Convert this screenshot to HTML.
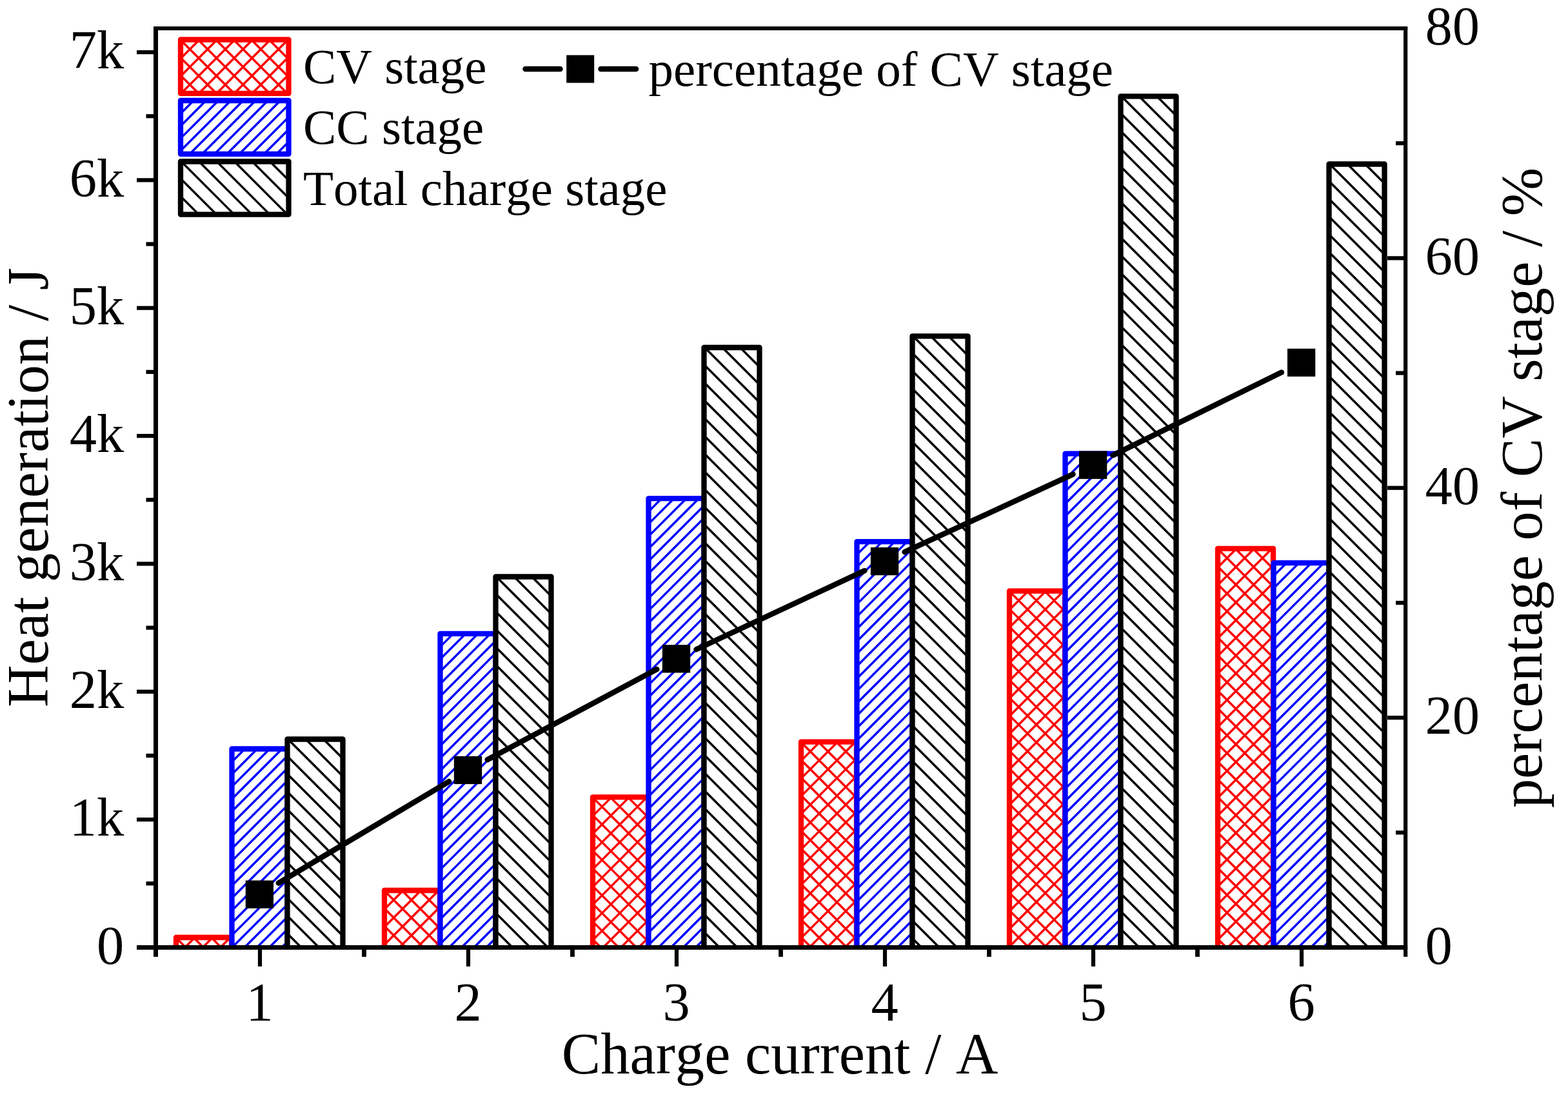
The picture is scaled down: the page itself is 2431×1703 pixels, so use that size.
<!DOCTYPE html>
<html lang="en">
<head>
<meta charset="utf-8">
<title>Heat generation vs charge current</title>
<style>
html,body{margin:0;padding:0;background:#fff;}
body{width:2431px;height:1703px;position:relative;overflow:hidden;}
svg text{font-family:"Liberation Serif", serif;font-kerning:none;}
</style>
</head>
<body>
<svg width="2431" height="1703" viewBox="0 0 2431 1703" role="img" aria-label="Heat generation and percentage of CV stage versus charge current" style="display:block;position:absolute;left:0;top:0">
<rect x="0" y="0" width="2431" height="1703" fill="#fff"/>
<clipPath id="plotclip"><rect x="0" y="0" width="2431" height="1469.50"/></clipPath>
<g id="bars" clip-path="url(#plotclip)">
<rect x="273.00" y="1454.00" width="86.00" height="15.50" fill="#fff" stroke="none"/>
<path d="M273.00 1454.50L288.00 1469.50M300.00 1454.00L315.50 1469.50M327.50 1454.00L343.00 1469.50M355.00 1454.00L359.00 1458.00M273.00 1455.70L274.70 1454.00M286.70 1469.50L302.20 1454.00M314.20 1469.50L329.70 1454.00M341.70 1469.50L357.20 1454.00" fill="none" stroke="#ff0000" stroke-width="3.45"/>
<rect x="273.00" y="1454.00" width="86.00" height="27.50" fill="none" stroke="#ff0000" stroke-width="8.30" stroke-linejoin="round"/>
<rect x="359.50" y="1161.50" width="86.00" height="308.00" fill="#fff" stroke="none"/>
<path d="M359.50 1162.50L360.50 1161.50M359.50 1181.71L379.71 1161.50M359.50 1200.92L398.92 1161.50M359.50 1220.13L418.13 1161.50M359.50 1239.34L437.34 1161.50M359.50 1258.55L445.50 1172.55M359.50 1277.76L445.50 1191.76M359.50 1296.97L445.50 1210.97M359.50 1316.18L445.50 1230.18M359.50 1335.39L445.50 1249.39M359.50 1354.60L445.50 1268.60M359.50 1373.81L445.50 1287.81M359.50 1393.02L445.50 1307.02M359.50 1412.23L445.50 1326.23M359.50 1431.44L445.50 1345.44M359.50 1450.65L445.50 1364.65M359.86 1469.50L445.50 1383.86M379.07 1469.50L445.50 1403.07M398.28 1469.50L445.50 1422.28M417.49 1469.50L445.50 1441.49M436.70 1469.50L445.50 1460.70" fill="none" stroke="#0000ff" stroke-width="3.45"/>
<rect x="359.50" y="1161.50" width="86.00" height="320.00" fill="none" stroke="#0000ff" stroke-width="8.30" stroke-linejoin="round"/>
<rect x="445.50" y="1146.50" width="86.00" height="323.00" fill="#fff" stroke="none"/>
<path d="M445.50 1448.00L467.00 1469.50M445.50 1420.50L494.50 1469.50M445.50 1393.00L522.00 1469.50M445.50 1365.50L531.50 1451.50M445.50 1338.00L531.50 1424.00M445.50 1310.50L531.50 1396.50M445.50 1283.00L531.50 1369.00M445.50 1255.50L531.50 1341.50M445.50 1228.00L531.50 1314.00M445.50 1200.50L531.50 1286.50M445.50 1173.00L531.50 1259.00M446.50 1146.50L531.50 1231.50M474.00 1146.50L531.50 1204.00M501.50 1146.50L531.50 1176.50M529.00 1146.50L531.50 1149.00" fill="none" stroke="#000000" stroke-width="3.45"/>
<rect x="445.50" y="1146.50" width="86.00" height="335.00" fill="none" stroke="#000000" stroke-width="8.30" stroke-linejoin="round"/>
<rect x="596.00" y="1381.00" width="86.00" height="88.50" fill="#fff" stroke="none"/>
<path d="M596.00 1464.00L601.50 1469.50M596.00 1436.50L629.00 1469.50M596.00 1409.00L656.50 1469.50M596.00 1381.50L682.00 1467.50M623.00 1381.00L682.00 1440.00M650.50 1381.00L682.00 1412.50M678.00 1381.00L682.00 1385.00M596.00 1382.70L597.70 1381.00M596.00 1410.20L625.20 1381.00M596.00 1437.70L652.70 1381.00M596.00 1465.20L680.20 1381.00M619.20 1469.50L682.00 1406.70M646.70 1469.50L682.00 1434.20M674.20 1469.50L682.00 1461.70" fill="none" stroke="#ff0000" stroke-width="3.45"/>
<rect x="596.00" y="1381.00" width="86.00" height="100.50" fill="none" stroke="#ff0000" stroke-width="8.30" stroke-linejoin="round"/>
<rect x="682.50" y="982.90" width="86.00" height="486.60" fill="#fff" stroke="none"/>
<path d="M682.50 983.90L683.50 982.90M682.50 1003.11L702.71 982.90M682.50 1022.32L721.92 982.90M682.50 1041.53L741.13 982.90M682.50 1060.74L760.34 982.90M682.50 1079.95L768.50 993.95M682.50 1099.16L768.50 1013.16M682.50 1118.37L768.50 1032.37M682.50 1137.58L768.50 1051.58M682.50 1156.79L768.50 1070.79M682.50 1176.00L768.50 1090.00M682.50 1195.21L768.50 1109.21M682.50 1214.42L768.50 1128.42M682.50 1233.63L768.50 1147.63M682.50 1252.84L768.50 1166.84M682.50 1272.05L768.50 1186.05M682.50 1291.26L768.50 1205.26M682.50 1310.47L768.50 1224.47M682.50 1329.68L768.50 1243.68M682.50 1348.89L768.50 1262.89M682.50 1368.10L768.50 1282.10M682.50 1387.31L768.50 1301.31M682.50 1406.52L768.50 1320.52M682.50 1425.73L768.50 1339.73M682.50 1444.94L768.50 1358.94M682.50 1464.15L768.50 1378.15M696.36 1469.50L768.50 1397.36M715.57 1469.50L768.50 1416.57M734.78 1469.50L768.50 1435.78M753.99 1469.50L768.50 1454.99" fill="none" stroke="#0000ff" stroke-width="3.45"/>
<rect x="682.50" y="982.90" width="86.00" height="498.60" fill="none" stroke="#0000ff" stroke-width="8.30" stroke-linejoin="round"/>
<rect x="768.50" y="894.50" width="86.00" height="575.00" fill="#fff" stroke="none"/>
<path d="M768.50 1443.50L794.50 1469.50M768.50 1416.00L822.00 1469.50M768.50 1388.50L849.50 1469.50M768.50 1361.00L854.50 1447.00M768.50 1333.50L854.50 1419.50M768.50 1306.00L854.50 1392.00M768.50 1278.50L854.50 1364.50M768.50 1251.00L854.50 1337.00M768.50 1223.50L854.50 1309.50M768.50 1196.00L854.50 1282.00M768.50 1168.50L854.50 1254.50M768.50 1141.00L854.50 1227.00M768.50 1113.50L854.50 1199.50M768.50 1086.00L854.50 1172.00M768.50 1058.50L854.50 1144.50M768.50 1031.00L854.50 1117.00M768.50 1003.50L854.50 1089.50M768.50 976.00L854.50 1062.00M768.50 948.50L854.50 1034.50M768.50 921.00L854.50 1007.00M769.50 894.50L854.50 979.50M797.00 894.50L854.50 952.00M824.50 894.50L854.50 924.50M852.00 894.50L854.50 897.00" fill="none" stroke="#000000" stroke-width="3.45"/>
<rect x="768.50" y="894.50" width="86.00" height="587.00" fill="none" stroke="#000000" stroke-width="8.30" stroke-linejoin="round"/>
<rect x="919.00" y="1236.40" width="86.00" height="233.10" fill="#fff" stroke="none"/>
<path d="M919.00 1456.90L931.60 1469.50M919.00 1429.40L959.10 1469.50M919.00 1401.90L986.60 1469.50M919.00 1374.40L1005.00 1460.40M919.00 1346.90L1005.00 1432.90M919.00 1319.40L1005.00 1405.40M919.00 1291.90L1005.00 1377.90M919.00 1264.40L1005.00 1350.40M919.00 1236.90L1005.00 1322.90M946.00 1236.40L1005.00 1295.40M973.50 1236.40L1005.00 1267.90M1001.00 1236.40L1005.00 1240.40M919.00 1238.10L920.70 1236.40M919.00 1265.60L948.20 1236.40M919.00 1293.10L975.70 1236.40M919.00 1320.60L1003.20 1236.40M919.00 1348.10L1005.00 1262.10M919.00 1375.60L1005.00 1289.60M919.00 1403.10L1005.00 1317.10M919.00 1430.60L1005.00 1344.60M919.00 1458.10L1005.00 1372.10M935.10 1469.50L1005.00 1399.60M962.60 1469.50L1005.00 1427.10M990.10 1469.50L1005.00 1454.60" fill="none" stroke="#ff0000" stroke-width="3.45"/>
<rect x="919.00" y="1236.40" width="86.00" height="245.10" fill="none" stroke="#ff0000" stroke-width="8.30" stroke-linejoin="round"/>
<rect x="1005.50" y="773.20" width="86.00" height="696.30" fill="#fff" stroke="none"/>
<path d="M1005.50 774.20L1006.50 773.20M1005.50 793.41L1025.71 773.20M1005.50 812.62L1044.92 773.20M1005.50 831.83L1064.13 773.20M1005.50 851.04L1083.34 773.20M1005.50 870.25L1091.50 784.25M1005.50 889.46L1091.50 803.46M1005.50 908.67L1091.50 822.67M1005.50 927.88L1091.50 841.88M1005.50 947.09L1091.50 861.09M1005.50 966.30L1091.50 880.30M1005.50 985.51L1091.50 899.51M1005.50 1004.72L1091.50 918.72M1005.50 1023.93L1091.50 937.93M1005.50 1043.14L1091.50 957.14M1005.50 1062.35L1091.50 976.35M1005.50 1081.56L1091.50 995.56M1005.50 1100.77L1091.50 1014.77M1005.50 1119.98L1091.50 1033.98M1005.50 1139.19L1091.50 1053.19M1005.50 1158.40L1091.50 1072.40M1005.50 1177.61L1091.50 1091.61M1005.50 1196.82L1091.50 1110.82M1005.50 1216.03L1091.50 1130.03M1005.50 1235.24L1091.50 1149.24M1005.50 1254.45L1091.50 1168.45M1005.50 1273.66L1091.50 1187.66M1005.50 1292.87L1091.50 1206.87M1005.50 1312.08L1091.50 1226.08M1005.50 1331.29L1091.50 1245.29M1005.50 1350.50L1091.50 1264.50M1005.50 1369.71L1091.50 1283.71M1005.50 1388.92L1091.50 1302.92M1005.50 1408.13L1091.50 1322.13M1005.50 1427.34L1091.50 1341.34M1005.50 1446.55L1091.50 1360.55M1005.50 1465.76L1091.50 1379.76M1020.97 1469.50L1091.50 1398.97M1040.18 1469.50L1091.50 1418.18M1059.39 1469.50L1091.50 1437.39M1078.60 1469.50L1091.50 1456.60" fill="none" stroke="#0000ff" stroke-width="3.45"/>
<rect x="1005.50" y="773.20" width="86.00" height="708.30" fill="none" stroke="#0000ff" stroke-width="8.30" stroke-linejoin="round"/>
<rect x="1091.50" y="539.00" width="86.00" height="930.50" fill="#fff" stroke="none"/>
<path d="M1091.50 1445.50L1115.50 1469.50M1091.50 1418.00L1143.00 1469.50M1091.50 1390.50L1170.50 1469.50M1091.50 1363.00L1177.50 1449.00M1091.50 1335.50L1177.50 1421.50M1091.50 1308.00L1177.50 1394.00M1091.50 1280.50L1177.50 1366.50M1091.50 1253.00L1177.50 1339.00M1091.50 1225.50L1177.50 1311.50M1091.50 1198.00L1177.50 1284.00M1091.50 1170.50L1177.50 1256.50M1091.50 1143.00L1177.50 1229.00M1091.50 1115.50L1177.50 1201.50M1091.50 1088.00L1177.50 1174.00M1091.50 1060.50L1177.50 1146.50M1091.50 1033.00L1177.50 1119.00M1091.50 1005.50L1177.50 1091.50M1091.50 978.00L1177.50 1064.00M1091.50 950.50L1177.50 1036.50M1091.50 923.00L1177.50 1009.00M1091.50 895.50L1177.50 981.50M1091.50 868.00L1177.50 954.00M1091.50 840.50L1177.50 926.50M1091.50 813.00L1177.50 899.00M1091.50 785.50L1177.50 871.50M1091.50 758.00L1177.50 844.00M1091.50 730.50L1177.50 816.50M1091.50 703.00L1177.50 789.00M1091.50 675.50L1177.50 761.50M1091.50 648.00L1177.50 734.00M1091.50 620.50L1177.50 706.50M1091.50 593.00L1177.50 679.00M1091.50 565.50L1177.50 651.50M1092.50 539.00L1177.50 624.00M1120.00 539.00L1177.50 596.50M1147.50 539.00L1177.50 569.00M1175.00 539.00L1177.50 541.50" fill="none" stroke="#000000" stroke-width="3.45"/>
<rect x="1091.50" y="539.00" width="86.00" height="942.50" fill="none" stroke="#000000" stroke-width="8.30" stroke-linejoin="round"/>
<rect x="1242.00" y="1150.70" width="86.00" height="318.80" fill="#fff" stroke="none"/>
<path d="M1242.00 1453.70L1257.80 1469.50M1242.00 1426.20L1285.30 1469.50M1242.00 1398.70L1312.80 1469.50M1242.00 1371.20L1328.00 1457.20M1242.00 1343.70L1328.00 1429.70M1242.00 1316.20L1328.00 1402.20M1242.00 1288.70L1328.00 1374.70M1242.00 1261.20L1328.00 1347.20M1242.00 1233.70L1328.00 1319.70M1242.00 1206.20L1328.00 1292.20M1242.00 1178.70L1328.00 1264.70M1242.00 1151.20L1328.00 1237.20M1269.00 1150.70L1328.00 1209.70M1296.50 1150.70L1328.00 1182.20M1324.00 1150.70L1328.00 1154.70M1242.00 1152.40L1243.70 1150.70M1242.00 1179.90L1271.20 1150.70M1242.00 1207.40L1298.70 1150.70M1242.00 1234.90L1326.20 1150.70M1242.00 1262.40L1328.00 1176.40M1242.00 1289.90L1328.00 1203.90M1242.00 1317.40L1328.00 1231.40M1242.00 1344.90L1328.00 1258.90M1242.00 1372.40L1328.00 1286.40M1242.00 1399.90L1328.00 1313.90M1242.00 1427.40L1328.00 1341.40M1242.00 1454.90L1328.00 1368.90M1254.90 1469.50L1328.00 1396.40M1282.40 1469.50L1328.00 1423.90M1309.90 1469.50L1328.00 1451.40" fill="none" stroke="#ff0000" stroke-width="3.45"/>
<rect x="1242.00" y="1150.70" width="86.00" height="330.80" fill="none" stroke="#ff0000" stroke-width="8.30" stroke-linejoin="round"/>
<rect x="1328.50" y="840.10" width="86.00" height="629.40" fill="#fff" stroke="none"/>
<path d="M1328.50 841.10L1329.50 840.10M1328.50 860.31L1348.71 840.10M1328.50 879.52L1367.92 840.10M1328.50 898.73L1387.13 840.10M1328.50 917.94L1406.34 840.10M1328.50 937.15L1414.50 851.15M1328.50 956.36L1414.50 870.36M1328.50 975.57L1414.50 889.57M1328.50 994.78L1414.50 908.78M1328.50 1013.99L1414.50 927.99M1328.50 1033.20L1414.50 947.20M1328.50 1052.41L1414.50 966.41M1328.50 1071.62L1414.50 985.62M1328.50 1090.83L1414.50 1004.83M1328.50 1110.04L1414.50 1024.04M1328.50 1129.25L1414.50 1043.25M1328.50 1148.46L1414.50 1062.46M1328.50 1167.67L1414.50 1081.67M1328.50 1186.88L1414.50 1100.88M1328.50 1206.09L1414.50 1120.09M1328.50 1225.30L1414.50 1139.30M1328.50 1244.51L1414.50 1158.51M1328.50 1263.72L1414.50 1177.72M1328.50 1282.93L1414.50 1196.93M1328.50 1302.14L1414.50 1216.14M1328.50 1321.35L1414.50 1235.35M1328.50 1340.56L1414.50 1254.56M1328.50 1359.77L1414.50 1273.77M1328.50 1378.98L1414.50 1292.98M1328.50 1398.19L1414.50 1312.19M1328.50 1417.40L1414.50 1331.40M1328.50 1436.61L1414.50 1350.61M1328.50 1455.82L1414.50 1369.82M1334.03 1469.50L1414.50 1389.03M1353.24 1469.50L1414.50 1408.24M1372.45 1469.50L1414.50 1427.45M1391.66 1469.50L1414.50 1446.66M1410.87 1469.50L1414.50 1465.87" fill="none" stroke="#0000ff" stroke-width="3.45"/>
<rect x="1328.50" y="840.10" width="86.00" height="641.40" fill="none" stroke="#0000ff" stroke-width="8.30" stroke-linejoin="round"/>
<rect x="1414.50" y="521.30" width="86.00" height="948.20" fill="#fff" stroke="none"/>
<path d="M1414.50 1455.30L1428.70 1469.50M1414.50 1427.80L1456.20 1469.50M1414.50 1400.30L1483.70 1469.50M1414.50 1372.80L1500.50 1458.80M1414.50 1345.30L1500.50 1431.30M1414.50 1317.80L1500.50 1403.80M1414.50 1290.30L1500.50 1376.30M1414.50 1262.80L1500.50 1348.80M1414.50 1235.30L1500.50 1321.30M1414.50 1207.80L1500.50 1293.80M1414.50 1180.30L1500.50 1266.30M1414.50 1152.80L1500.50 1238.80M1414.50 1125.30L1500.50 1211.30M1414.50 1097.80L1500.50 1183.80M1414.50 1070.30L1500.50 1156.30M1414.50 1042.80L1500.50 1128.80M1414.50 1015.30L1500.50 1101.30M1414.50 987.80L1500.50 1073.80M1414.50 960.30L1500.50 1046.30M1414.50 932.80L1500.50 1018.80M1414.50 905.30L1500.50 991.30M1414.50 877.80L1500.50 963.80M1414.50 850.30L1500.50 936.30M1414.50 822.80L1500.50 908.80M1414.50 795.30L1500.50 881.30M1414.50 767.80L1500.50 853.80M1414.50 740.30L1500.50 826.30M1414.50 712.80L1500.50 798.80M1414.50 685.30L1500.50 771.30M1414.50 657.80L1500.50 743.80M1414.50 630.30L1500.50 716.30M1414.50 602.80L1500.50 688.80M1414.50 575.30L1500.50 661.30M1414.50 547.80L1500.50 633.80M1415.50 521.30L1500.50 606.30M1443.00 521.30L1500.50 578.80M1470.50 521.30L1500.50 551.30M1498.00 521.30L1500.50 523.80" fill="none" stroke="#000000" stroke-width="3.45"/>
<rect x="1414.50" y="521.30" width="86.00" height="960.20" fill="none" stroke="#000000" stroke-width="8.30" stroke-linejoin="round"/>
<rect x="1565.00" y="916.60" width="86.00" height="552.90" fill="#fff" stroke="none"/>
<path d="M1565.00 1467.10L1567.40 1469.50M1565.00 1439.60L1594.90 1469.50M1565.00 1412.10L1622.40 1469.50M1565.00 1384.60L1649.90 1469.50M1565.00 1357.10L1651.00 1443.10M1565.00 1329.60L1651.00 1415.60M1565.00 1302.10L1651.00 1388.10M1565.00 1274.60L1651.00 1360.60M1565.00 1247.10L1651.00 1333.10M1565.00 1219.60L1651.00 1305.60M1565.00 1192.10L1651.00 1278.10M1565.00 1164.60L1651.00 1250.60M1565.00 1137.10L1651.00 1223.10M1565.00 1109.60L1651.00 1195.60M1565.00 1082.10L1651.00 1168.10M1565.00 1054.60L1651.00 1140.60M1565.00 1027.10L1651.00 1113.10M1565.00 999.60L1651.00 1085.60M1565.00 972.10L1651.00 1058.10M1565.00 944.60L1651.00 1030.60M1565.00 917.10L1651.00 1003.10M1592.00 916.60L1651.00 975.60M1619.50 916.60L1651.00 948.10M1647.00 916.60L1651.00 920.60M1565.00 918.30L1566.70 916.60M1565.00 945.80L1594.20 916.60M1565.00 973.30L1621.70 916.60M1565.00 1000.80L1649.20 916.60M1565.00 1028.30L1651.00 942.30M1565.00 1055.80L1651.00 969.80M1565.00 1083.30L1651.00 997.30M1565.00 1110.80L1651.00 1024.80M1565.00 1138.30L1651.00 1052.30M1565.00 1165.80L1651.00 1079.80M1565.00 1193.30L1651.00 1107.30M1565.00 1220.80L1651.00 1134.80M1565.00 1248.30L1651.00 1162.30M1565.00 1275.80L1651.00 1189.80M1565.00 1303.30L1651.00 1217.30M1565.00 1330.80L1651.00 1244.80M1565.00 1358.30L1651.00 1272.30M1565.00 1385.80L1651.00 1299.80M1565.00 1413.30L1651.00 1327.30M1565.00 1440.80L1651.00 1354.80M1565.00 1468.30L1651.00 1382.30M1591.30 1469.50L1651.00 1409.80M1618.80 1469.50L1651.00 1437.30M1646.30 1469.50L1651.00 1464.80" fill="none" stroke="#ff0000" stroke-width="3.45"/>
<rect x="1565.00" y="916.60" width="86.00" height="564.90" fill="none" stroke="#ff0000" stroke-width="8.30" stroke-linejoin="round"/>
<rect x="1651.50" y="703.70" width="86.00" height="765.80" fill="#fff" stroke="none"/>
<path d="M1651.50 704.70L1652.50 703.70M1651.50 723.91L1671.71 703.70M1651.50 743.12L1690.92 703.70M1651.50 762.33L1710.13 703.70M1651.50 781.54L1729.34 703.70M1651.50 800.75L1737.50 714.75M1651.50 819.96L1737.50 733.96M1651.50 839.17L1737.50 753.17M1651.50 858.38L1737.50 772.38M1651.50 877.59L1737.50 791.59M1651.50 896.80L1737.50 810.80M1651.50 916.01L1737.50 830.01M1651.50 935.22L1737.50 849.22M1651.50 954.43L1737.50 868.43M1651.50 973.64L1737.50 887.64M1651.50 992.85L1737.50 906.85M1651.50 1012.06L1737.50 926.06M1651.50 1031.27L1737.50 945.27M1651.50 1050.48L1737.50 964.48M1651.50 1069.69L1737.50 983.69M1651.50 1088.90L1737.50 1002.90M1651.50 1108.11L1737.50 1022.11M1651.50 1127.32L1737.50 1041.32M1651.50 1146.53L1737.50 1060.53M1651.50 1165.74L1737.50 1079.74M1651.50 1184.95L1737.50 1098.95M1651.50 1204.16L1737.50 1118.16M1651.50 1223.37L1737.50 1137.37M1651.50 1242.58L1737.50 1156.58M1651.50 1261.79L1737.50 1175.79M1651.50 1281.00L1737.50 1195.00M1651.50 1300.21L1737.50 1214.21M1651.50 1319.42L1737.50 1233.42M1651.50 1338.63L1737.50 1252.63M1651.50 1357.84L1737.50 1271.84M1651.50 1377.05L1737.50 1291.05M1651.50 1396.26L1737.50 1310.26M1651.50 1415.47L1737.50 1329.47M1651.50 1434.68L1737.50 1348.68M1651.50 1453.89L1737.50 1367.89M1655.10 1469.50L1737.50 1387.10M1674.31 1469.50L1737.50 1406.31M1693.52 1469.50L1737.50 1425.52M1712.73 1469.50L1737.50 1444.73M1731.94 1469.50L1737.50 1463.94" fill="none" stroke="#0000ff" stroke-width="3.45"/>
<rect x="1651.50" y="703.70" width="86.00" height="777.80" fill="none" stroke="#0000ff" stroke-width="8.30" stroke-linejoin="round"/>
<rect x="1737.50" y="149.30" width="86.00" height="1320.20" fill="#fff" stroke="none"/>
<path d="M1737.50 1468.30L1738.70 1469.50M1737.50 1440.80L1766.20 1469.50M1737.50 1413.30L1793.70 1469.50M1737.50 1385.80L1821.20 1469.50M1737.50 1358.30L1823.50 1444.30M1737.50 1330.80L1823.50 1416.80M1737.50 1303.30L1823.50 1389.30M1737.50 1275.80L1823.50 1361.80M1737.50 1248.30L1823.50 1334.30M1737.50 1220.80L1823.50 1306.80M1737.50 1193.30L1823.50 1279.30M1737.50 1165.80L1823.50 1251.80M1737.50 1138.30L1823.50 1224.30M1737.50 1110.80L1823.50 1196.80M1737.50 1083.30L1823.50 1169.30M1737.50 1055.80L1823.50 1141.80M1737.50 1028.30L1823.50 1114.30M1737.50 1000.80L1823.50 1086.80M1737.50 973.30L1823.50 1059.30M1737.50 945.80L1823.50 1031.80M1737.50 918.30L1823.50 1004.30M1737.50 890.80L1823.50 976.80M1737.50 863.30L1823.50 949.30M1737.50 835.80L1823.50 921.80M1737.50 808.30L1823.50 894.30M1737.50 780.80L1823.50 866.80M1737.50 753.30L1823.50 839.30M1737.50 725.80L1823.50 811.80M1737.50 698.30L1823.50 784.30M1737.50 670.80L1823.50 756.80M1737.50 643.30L1823.50 729.30M1737.50 615.80L1823.50 701.80M1737.50 588.30L1823.50 674.30M1737.50 560.80L1823.50 646.80M1737.50 533.30L1823.50 619.30M1737.50 505.80L1823.50 591.80M1737.50 478.30L1823.50 564.30M1737.50 450.80L1823.50 536.80M1737.50 423.30L1823.50 509.30M1737.50 395.80L1823.50 481.80M1737.50 368.30L1823.50 454.30M1737.50 340.80L1823.50 426.80M1737.50 313.30L1823.50 399.30M1737.50 285.80L1823.50 371.80M1737.50 258.30L1823.50 344.30M1737.50 230.80L1823.50 316.80M1737.50 203.30L1823.50 289.30M1737.50 175.80L1823.50 261.80M1738.50 149.30L1823.50 234.30M1766.00 149.30L1823.50 206.80M1793.50 149.30L1823.50 179.30M1821.00 149.30L1823.50 151.80" fill="none" stroke="#000000" stroke-width="3.45"/>
<rect x="1737.50" y="149.30" width="86.00" height="1332.20" fill="none" stroke="#000000" stroke-width="8.30" stroke-linejoin="round"/>
<rect x="1888.00" y="850.80" width="86.00" height="618.70" fill="#fff" stroke="none"/>
<path d="M1888.00 1456.30L1901.20 1469.50M1888.00 1428.80L1928.70 1469.50M1888.00 1401.30L1956.20 1469.50M1888.00 1373.80L1974.00 1459.80M1888.00 1346.30L1974.00 1432.30M1888.00 1318.80L1974.00 1404.80M1888.00 1291.30L1974.00 1377.30M1888.00 1263.80L1974.00 1349.80M1888.00 1236.30L1974.00 1322.30M1888.00 1208.80L1974.00 1294.80M1888.00 1181.30L1974.00 1267.30M1888.00 1153.80L1974.00 1239.80M1888.00 1126.30L1974.00 1212.30M1888.00 1098.80L1974.00 1184.80M1888.00 1071.30L1974.00 1157.30M1888.00 1043.80L1974.00 1129.80M1888.00 1016.30L1974.00 1102.30M1888.00 988.80L1974.00 1074.80M1888.00 961.30L1974.00 1047.30M1888.00 933.80L1974.00 1019.80M1888.00 906.30L1974.00 992.30M1888.00 878.80L1974.00 964.80M1888.00 851.30L1974.00 937.30M1915.00 850.80L1974.00 909.80M1942.50 850.80L1974.00 882.30M1970.00 850.80L1974.00 854.80M1888.00 852.50L1889.70 850.80M1888.00 880.00L1917.20 850.80M1888.00 907.50L1944.70 850.80M1888.00 935.00L1972.20 850.80M1888.00 962.50L1974.00 876.50M1888.00 990.00L1974.00 904.00M1888.00 1017.50L1974.00 931.50M1888.00 1045.00L1974.00 959.00M1888.00 1072.50L1974.00 986.50M1888.00 1100.00L1974.00 1014.00M1888.00 1127.50L1974.00 1041.50M1888.00 1155.00L1974.00 1069.00M1888.00 1182.50L1974.00 1096.50M1888.00 1210.00L1974.00 1124.00M1888.00 1237.50L1974.00 1151.50M1888.00 1265.00L1974.00 1179.00M1888.00 1292.50L1974.00 1206.50M1888.00 1320.00L1974.00 1234.00M1888.00 1347.50L1974.00 1261.50M1888.00 1375.00L1974.00 1289.00M1888.00 1402.50L1974.00 1316.50M1888.00 1430.00L1974.00 1344.00M1888.00 1457.50L1974.00 1371.50M1903.50 1469.50L1974.00 1399.00M1931.00 1469.50L1974.00 1426.50M1958.50 1469.50L1974.00 1454.00" fill="none" stroke="#ff0000" stroke-width="3.45"/>
<rect x="1888.00" y="850.80" width="86.00" height="630.70" fill="none" stroke="#ff0000" stroke-width="8.30" stroke-linejoin="round"/>
<rect x="1974.50" y="873.10" width="86.00" height="596.40" fill="#fff" stroke="none"/>
<path d="M1974.50 874.10L1975.50 873.10M1974.50 893.31L1994.71 873.10M1974.50 912.52L2013.92 873.10M1974.50 931.73L2033.13 873.10M1974.50 950.94L2052.34 873.10M1974.50 970.15L2060.50 884.15M1974.50 989.36L2060.50 903.36M1974.50 1008.57L2060.50 922.57M1974.50 1027.78L2060.50 941.78M1974.50 1046.99L2060.50 960.99M1974.50 1066.20L2060.50 980.20M1974.50 1085.41L2060.50 999.41M1974.50 1104.62L2060.50 1018.62M1974.50 1123.83L2060.50 1037.83M1974.50 1143.04L2060.50 1057.04M1974.50 1162.25L2060.50 1076.25M1974.50 1181.46L2060.50 1095.46M1974.50 1200.67L2060.50 1114.67M1974.50 1219.88L2060.50 1133.88M1974.50 1239.09L2060.50 1153.09M1974.50 1258.30L2060.50 1172.30M1974.50 1277.51L2060.50 1191.51M1974.50 1296.72L2060.50 1210.72M1974.50 1315.93L2060.50 1229.93M1974.50 1335.14L2060.50 1249.14M1974.50 1354.35L2060.50 1268.35M1974.50 1373.56L2060.50 1287.56M1974.50 1392.77L2060.50 1306.77M1974.50 1411.98L2060.50 1325.98M1974.50 1431.19L2060.50 1345.19M1974.50 1450.40L2060.50 1364.40M1974.61 1469.50L2060.50 1383.61M1993.82 1469.50L2060.50 1402.82M2013.03 1469.50L2060.50 1422.03M2032.24 1469.50L2060.50 1441.24M2051.45 1469.50L2060.50 1460.45" fill="none" stroke="#0000ff" stroke-width="3.45"/>
<rect x="1974.50" y="873.10" width="86.00" height="608.40" fill="none" stroke="#0000ff" stroke-width="8.30" stroke-linejoin="round"/>
<rect x="2060.50" y="254.50" width="86.00" height="1215.00" fill="#fff" stroke="none"/>
<path d="M2060.50 1463.50L2066.50 1469.50M2060.50 1436.00L2094.00 1469.50M2060.50 1408.50L2121.50 1469.50M2060.50 1381.00L2146.50 1467.00M2060.50 1353.50L2146.50 1439.50M2060.50 1326.00L2146.50 1412.00M2060.50 1298.50L2146.50 1384.50M2060.50 1271.00L2146.50 1357.00M2060.50 1243.50L2146.50 1329.50M2060.50 1216.00L2146.50 1302.00M2060.50 1188.50L2146.50 1274.50M2060.50 1161.00L2146.50 1247.00M2060.50 1133.50L2146.50 1219.50M2060.50 1106.00L2146.50 1192.00M2060.50 1078.50L2146.50 1164.50M2060.50 1051.00L2146.50 1137.00M2060.50 1023.50L2146.50 1109.50M2060.50 996.00L2146.50 1082.00M2060.50 968.50L2146.50 1054.50M2060.50 941.00L2146.50 1027.00M2060.50 913.50L2146.50 999.50M2060.50 886.00L2146.50 972.00M2060.50 858.50L2146.50 944.50M2060.50 831.00L2146.50 917.00M2060.50 803.50L2146.50 889.50M2060.50 776.00L2146.50 862.00M2060.50 748.50L2146.50 834.50M2060.50 721.00L2146.50 807.00M2060.50 693.50L2146.50 779.50M2060.50 666.00L2146.50 752.00M2060.50 638.50L2146.50 724.50M2060.50 611.00L2146.50 697.00M2060.50 583.50L2146.50 669.50M2060.50 556.00L2146.50 642.00M2060.50 528.50L2146.50 614.50M2060.50 501.00L2146.50 587.00M2060.50 473.50L2146.50 559.50M2060.50 446.00L2146.50 532.00M2060.50 418.50L2146.50 504.50M2060.50 391.00L2146.50 477.00M2060.50 363.50L2146.50 449.50M2060.50 336.00L2146.50 422.00M2060.50 308.50L2146.50 394.50M2060.50 281.00L2146.50 367.00M2061.50 254.50L2146.50 339.50M2089.00 254.50L2146.50 312.00M2116.50 254.50L2146.50 284.50M2144.00 254.50L2146.50 257.00" fill="none" stroke="#000000" stroke-width="3.45"/>
<rect x="2060.50" y="254.50" width="86.00" height="1227.00" fill="none" stroke="#000000" stroke-width="8.30" stroke-linejoin="round"/>
</g>
<g id="series" stroke="#000" stroke-width="8.50" stroke-linecap="round" fill="none">
<line x1="431.86" y1="1369.63" x2="696.04" y2="1212.07"/>
<line x1="755.75" y1="1178.33" x2="1018.25" y2="1037.97"/>
<line x1="1079.56" y1="1007.26" x2="1340.44" y2="885.14"/>
<line x1="1402.63" y1="856.20" x2="1663.47" y2="735.60"/>
<line x1="1725.38" y1="706.07" x2="1986.82" y2="577.53"/>
</g>
<g id="markers" fill="#000">
<rect x="380.75" y="1365.55" width="43.30" height="43.30"/>
<rect x="703.85" y="1172.85" width="43.30" height="43.30"/>
<rect x="1026.85" y="1000.15" width="43.30" height="43.30"/>
<rect x="1349.85" y="848.95" width="43.30" height="43.30"/>
<rect x="1672.95" y="699.55" width="43.30" height="43.30"/>
<rect x="1995.95" y="540.75" width="43.30" height="43.30"/>
</g>
<g id="axes" fill="#000">
<rect x="238" y="41" width="7" height="1443"/>
<rect x="2176" y="41" width="6.2" height="1443"/>
<rect x="238" y="41" width="1944.2" height="6"/>
<rect x="212" y="1466" width="1970.2" height="7"/>
<rect x="226.5" y="1367.22" width="12" height="6.2"/>
<rect x="212" y="1268.04" width="27" height="6.2"/>
<rect x="226.5" y="1168.86" width="12" height="6.2"/>
<rect x="212" y="1069.69" width="27" height="6.2"/>
<rect x="226.5" y="970.51" width="12" height="6.2"/>
<rect x="212" y="871.33" width="27" height="6.2"/>
<rect x="226.5" y="772.15" width="12" height="6.2"/>
<rect x="212" y="672.97" width="27" height="6.2"/>
<rect x="226.5" y="573.79" width="12" height="6.2"/>
<rect x="212" y="474.61" width="27" height="6.2"/>
<rect x="226.5" y="375.44" width="12" height="6.2"/>
<rect x="212" y="276.26" width="27" height="6.2"/>
<rect x="226.5" y="177.08" width="12" height="6.2"/>
<rect x="212" y="77.90" width="27" height="6.2"/>
<rect x="399.90" y="1472" width="6.2" height="27"/>
<rect x="561.10" y="1472" width="6.8" height="12"/>
<rect x="722.90" y="1472" width="6.2" height="27"/>
<rect x="884.10" y="1472" width="6.8" height="12"/>
<rect x="1045.90" y="1472" width="6.2" height="27"/>
<rect x="1207.10" y="1472" width="6.8" height="12"/>
<rect x="1368.90" y="1472" width="6.2" height="27"/>
<rect x="1530.10" y="1472" width="6.8" height="12"/>
<rect x="1691.90" y="1472" width="6.2" height="27"/>
<rect x="1853.10" y="1472" width="6.8" height="12"/>
<rect x="2014.90" y="1472" width="6.2" height="27"/>
<rect x="2164" y="1288.21" width="13" height="6.2"/>
<rect x="2151" y="1110.03" width="26" height="6.2"/>
<rect x="2164" y="931.84" width="13" height="6.2"/>
<rect x="2151" y="753.65" width="26" height="6.2"/>
<rect x="2164" y="575.46" width="13" height="6.2"/>
<rect x="2151" y="397.27" width="26" height="6.2"/>
<rect x="2164" y="219.09" width="13" height="6.2"/>
</g>
<g id="text" fill="#000">
<text x="192.2" y="1494.80" font-size="84.5" text-anchor="end">0</text>
<text x="192.2" y="1296.44" font-size="84.5" text-anchor="end">1k</text>
<text x="192.2" y="1098.09" font-size="84.5" text-anchor="end">2k</text>
<text x="192.2" y="899.73" font-size="84.5" text-anchor="end">3k</text>
<text x="192.2" y="701.37" font-size="84.5" text-anchor="end">4k</text>
<text x="192.2" y="503.01" font-size="84.5" text-anchor="end">5k</text>
<text x="192.2" y="304.66" font-size="84.5" text-anchor="end">6k</text>
<text x="192.2" y="106.30" font-size="84.5" text-anchor="end">7k</text>
<text x="2209.5" y="1494.80" font-size="84.5" text-anchor="start">0</text>
<text x="2209.5" y="1138.42" font-size="84.5" text-anchor="start">20</text>
<text x="2209.5" y="782.05" font-size="84.5" text-anchor="start">40</text>
<text x="2209.5" y="425.68" font-size="84.5" text-anchor="start">60</text>
<text x="2209.5" y="69.30" font-size="84.5" text-anchor="start">80</text>
<text x="402.50" y="1583.3" font-size="84.5" text-anchor="middle">1</text>
<text x="725.50" y="1583.3" font-size="84.5" text-anchor="middle">2</text>
<text x="1048.50" y="1583.3" font-size="84.5" text-anchor="middle">3</text>
<text x="1371.50" y="1583.3" font-size="84.5" text-anchor="middle">4</text>
<text x="1694.50" y="1583.3" font-size="84.5" text-anchor="middle">5</text>
<text x="2017.50" y="1583.3" font-size="84.5" text-anchor="middle">6</text>
<text x="1209.1" y="1665.2" font-size="90.6" text-anchor="middle">Charge current / A</text>
<text transform="translate(74.0,755.8) rotate(-90)" font-size="90.6" text-anchor="middle">Heat generation / J</text>
<text transform="translate(2390.2,756.5) rotate(-90)" font-size="90.6" text-anchor="middle">percentage of CV stage / %</text>
<text x="470" y="129.2" font-size="77.0">CV stage</text>
<text x="470" y="223.3" font-size="77.0">CC stage</text>
<text x="470" y="318.3" font-size="77.0">Total charge stage</text>
<text x="1005.5" y="133.1" font-size="77.0">percentage of CV stage</text>
</g>
<g id="legend">
<rect x="280.00" y="61.50" width="167.50" height="83.30" fill="#fff" stroke="none"/>
<path d="M280.00 144.50L280.30 144.80M280.00 117.00L307.80 144.80M280.00 89.50L335.30 144.80M280.00 62.00L362.80 144.80M307.00 61.50L390.30 144.80M334.50 61.50L417.80 144.80M362.00 61.50L445.30 144.80M389.50 61.50L447.50 119.50M417.00 61.50L447.50 92.00M444.50 61.50L447.50 64.50M280.00 63.20L281.70 61.50M280.00 90.70L309.20 61.50M280.00 118.20L336.70 61.50M280.90 144.80L364.20 61.50M308.40 144.80L391.70 61.50M335.90 144.80L419.20 61.50M363.40 144.80L446.70 61.50M390.90 144.80L447.50 88.20M418.40 144.80L447.50 115.70M445.90 144.80L447.50 143.20" fill="none" stroke="#ff0000" stroke-width="3.45"/>
<rect x="280.00" y="61.50" width="167.50" height="83.30" fill="none" stroke="#ff0000" stroke-width="8.30" stroke-linejoin="round"/>
<rect x="280.00" y="156.00" width="167.50" height="82.80" fill="#fff" stroke="none"/>
<path d="M280.00 157.00L281.00 156.00M280.00 176.21L300.21 156.00M280.00 195.42L319.42 156.00M280.00 214.63L338.63 156.00M280.00 233.84L357.84 156.00M294.25 238.80L377.05 156.00M313.46 238.80L396.26 156.00M332.67 238.80L415.47 156.00M351.88 238.80L434.68 156.00M371.09 238.80L447.50 162.39M390.30 238.80L447.50 181.60M409.51 238.80L447.50 200.81M428.72 238.80L447.50 220.02" fill="none" stroke="#0000ff" stroke-width="3.45"/>
<rect x="280.00" y="156.00" width="167.50" height="82.80" fill="none" stroke="#0000ff" stroke-width="8.30" stroke-linejoin="round"/>
<rect x="280.00" y="250.50" width="167.50" height="82.10" fill="#fff" stroke="none"/>
<path d="M280.00 332.00L280.60 332.60M280.00 304.50L308.10 332.60M280.00 277.00L335.60 332.60M281.00 250.50L363.10 332.60M308.50 250.50L390.60 332.60M336.00 250.50L418.10 332.60M363.50 250.50L445.60 332.60M391.00 250.50L447.50 307.00M418.50 250.50L447.50 279.50M446.00 250.50L447.50 252.00" fill="none" stroke="#000000" stroke-width="3.45"/>
<rect x="280.00" y="250.50" width="167.50" height="82.10" fill="none" stroke="#000000" stroke-width="8.30" stroke-linejoin="round"/>
<g stroke="#000" stroke-width="8.50" stroke-linecap="round"><line x1="814.5" y1="107" x2="868.5" y2="107"/><line x1="931.5" y1="107" x2="986" y2="107"/></g>
<rect x="878.2" y="85.5" width="43" height="43" fill="#000"/>
</g>
</svg>
</body>
</html>
